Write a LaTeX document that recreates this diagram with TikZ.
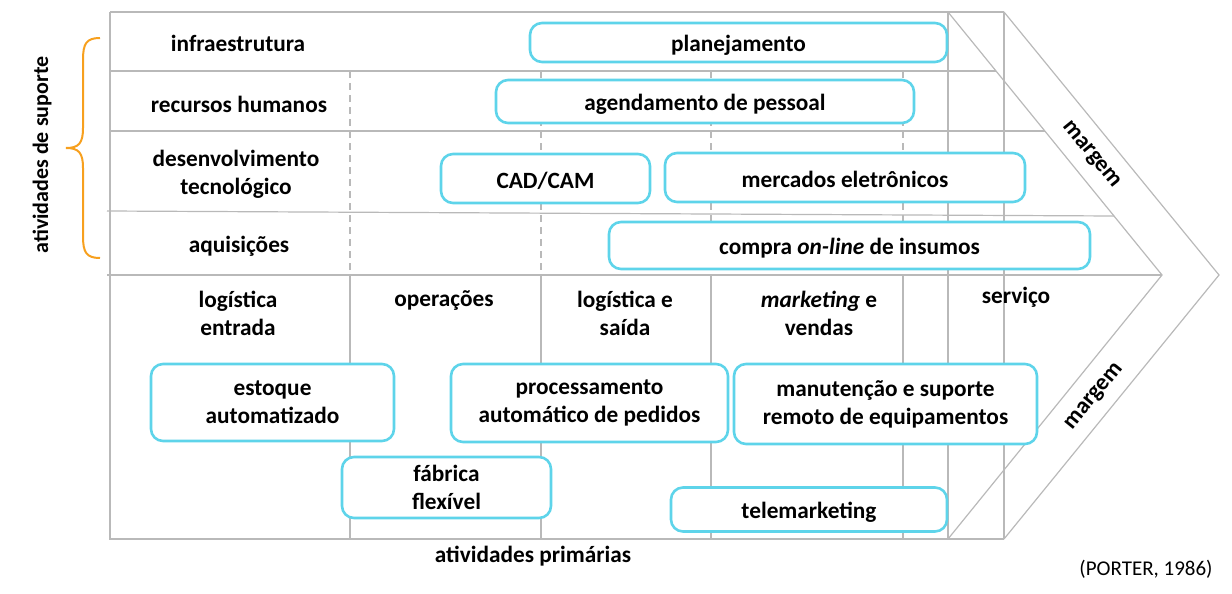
\documentclass[tikz,border=0pt]{standalone}
\usepackage{fontspec}
\setmainfont{Carlito}
\definecolor{boxcyan}{RGB}{94,212,234}
\definecolor{gridgray}{RGB}{185,185,185}
\definecolor{braceorange}{RGB}{247,160,30}
\tikzset{
	gridline/.style={draw=gridgray, line width=1.2pt},
	sepline/.style={gridline, dash pattern=on 7pt off 5pt},
	techbox/.style={draw=boxcyan, line width=2.6pt, rounded corners=12pt, fill=white,
		align=center, inner sep=0pt, font=\bfseries\fontsize{23.3}{28}\selectfont,
		execute at begin node={\rule{0pt}{21pt}}},
	label/.style={align=center, inner sep=0pt, font=\bfseries\fontsize{23.3}{28}\selectfont},
}
\begin{document}
\begin{tikzpicture}[x=1pt, y=-1pt]
	\useasboundingbox (0, 0) rectangle (1232, 594);
	% frame and rows
	\draw[gridline] (110, 12) -- (1004, 12);
	\draw[gridline] (110, 12) -- (110, 539) -- (1004, 539);
	\draw[gridline] (110, 71) -- (996, 71);
	\draw[gridline] (110, 131) -- (1045, 131);
	\draw[gridline] (107, 211) -- (1114, 216);
	\draw[gridline] (107, 275) -- (1162, 275);
	\draw[sepline] (350, 71) -- (350, 275);
	\draw[sepline] (541, 71) -- (541, 275);
	\draw[sepline] (711, 71) -- (711, 275);
	\draw[sepline] (903, 71) -- (903, 275);
	\draw[gridline] (350, 275) -- (350, 539);
	\draw[gridline] (541, 275) -- (541, 539);
	\draw[gridline] (711, 275) -- (711, 539);
	\draw[gridline] (903, 275) -- (903, 539);
	\draw[gridline] (948, 12) -- (948, 539);
	\draw[gridline] (1004, 12) -- (1004, 539);
	% margin arrow
	\draw[gridline] (948, 12) -- (1162, 275) -- (948, 539);
	\draw[gridline] (1004, 12) -- (1219, 275) -- (1004, 539);
	\node[label, rotate=-50.9] (margemsup) at (1091, 155) {margem};
	\node[label, rotate=50.9] (margeminf) at (1095, 397) {margem};
	% support activities
	\node[label] (infra) at (238, 43) {infraestrutura};
	\node[label] (rh) at (239, 104) {recursos humanos};
	\node[label] (desenv) at (236, 174) {desenvolvimento\\tecnológico};
	\node[label] (aquis) at (239, 246) {aquisições};
	\draw[braceorange, line width=2pt] (100, 38) .. controls (86, 38) and (83, 44) .. (83, 60)
		-- (83, 128) .. controls (83, 143) and (79, 148) .. (66, 148)
		.. controls (79, 148) and (83, 153) .. (83, 168)
		-- (83, 236) .. controls (83, 252) and (86, 258) .. (100, 258);
	\node[label, font=\bfseries\fontsize{22}{26}\selectfont, rotate=90] (suporte) at (42, 155) {atividades de suporte};
	% primary activities
	\node[label] (logent) at (238, 313) {logística\\entrada};
	\node[label] (oper) at (444, 301) {operações};
	\node[label] (logsai) at (625, 313) {logística e\\saída};
	\node[label] (mkt) at (819, 313) {\textit{marketing} e\\vendas};
	\node[label] (serv) at (1016, 297) {serviço};
	\node[label] (primarias) at (533, 556) {atividades primárias};
	% technologies
	\node[techbox, minimum width=417pt, minimum height=39pt] (planejamento) at (738.5, 42.5) {planejamento};
	\node[techbox, minimum width=418pt, minimum height=43pt] (agendamento) at (705, 101.5) {agendamento de pessoal};
	\node[techbox, minimum width=209pt, minimum height=49pt] (cadcam) at (545.5, 178.5) {CAD/CAM};
	\node[techbox, minimum width=360pt, minimum height=49pt] (mercados) at (845, 177.5) {mercados eletrônicos};
	\node[techbox, minimum width=481pt, minimum height=47pt] (compra) at (849.5, 245.5) {compra \textit{on-line} de insumos};
	\node[techbox, minimum width=243pt, minimum height=77pt] (estoque) at (272.5, 402.5) {estoque\\automatizado};
	\node[techbox, minimum width=277pt, minimum height=78pt] (processamento) at (589.5, 403) {processamento\\automático de pedidos};
	\node[techbox, minimum width=303pt, minimum height=80pt] (manutencao) at (885.5, 404) {manutenção e suporte\\remoto de equipamentos};
	\node[techbox, minimum width=209pt, minimum height=61pt] (fabrica) at (446.5, 487.5) {fábrica\\flexível};
	\node[techbox, minimum width=276pt, minimum height=44pt] (telemarketing) at (809, 509.5) {telemarketing};
	\node[inner sep=0pt, font=\fontsize{21}{25}\selectfont] (fonte) at (1146, 569) {(PORTER, 1986)};
\end{tikzpicture}
\end{document}
